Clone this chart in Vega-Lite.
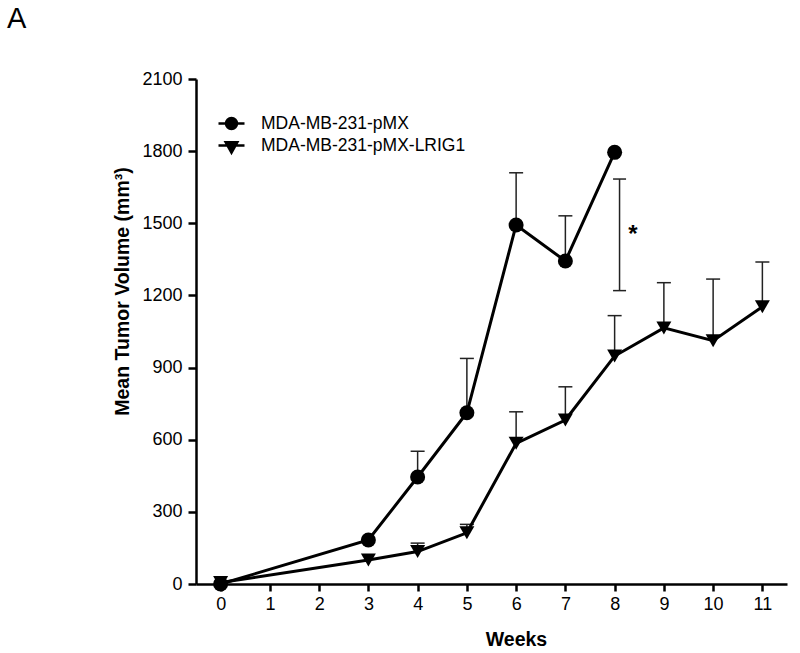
{
  "$schema": "https://vega.github.io/schema/vega-lite/v6.json",
  "width": 591,
  "height": 505,
  "autosize": {"type": "none"},
  "padding": {"left": 196, "top": 79, "right": 13, "bottom": 69},
  "background": "white",
  "config": {"view": {"stroke": null}, "font": "Liberation Sans"},
  "title": {"text": "A", "anchor": "start", "frame": "group", "fontSize": 29, "fontWeight": "normal", "font": "Liberation Sans", "color": "black", "dx": -189, "offset": 36},
  "datasets": {
    "tumor": [
      {"group": "MDA-MB-231-pMX", "week": 0, "mean": 0, "upper": null},
      {"group": "MDA-MB-231-pMX", "week": 3, "mean": 183, "upper": null},
      {"group": "MDA-MB-231-pMX", "week": 4, "mean": 445, "upper": 552},
      {"group": "MDA-MB-231-pMX", "week": 5, "mean": 712, "upper": 938},
      {"group": "MDA-MB-231-pMX", "week": 6, "mean": 1493, "upper": 1710},
      {"group": "MDA-MB-231-pMX", "week": 7, "mean": 1343, "upper": 1531},
      {"group": "MDA-MB-231-pMX", "week": 8, "mean": 1795, "upper": null},
      {"group": "MDA-MB-231-pMX-LRIG1", "week": 0, "mean": 6, "upper": null},
      {"group": "MDA-MB-231-pMX-LRIG1", "week": 3, "mean": 100, "upper": null},
      {"group": "MDA-MB-231-pMX-LRIG1", "week": 4, "mean": 135, "upper": 170},
      {"group": "MDA-MB-231-pMX-LRIG1", "week": 5, "mean": 213, "upper": 248},
      {"group": "MDA-MB-231-pMX-LRIG1", "week": 6, "mean": 585, "upper": 716},
      {"group": "MDA-MB-231-pMX-LRIG1", "week": 7, "mean": 682, "upper": 820},
      {"group": "MDA-MB-231-pMX-LRIG1", "week": 8, "mean": 948, "upper": 1116},
      {"group": "MDA-MB-231-pMX-LRIG1", "week": 9, "mean": 1065, "upper": 1253},
      {"group": "MDA-MB-231-pMX-LRIG1", "week": 10, "mean": 1012, "upper": 1268},
      {"group": "MDA-MB-231-pMX-LRIG1", "week": 11, "mean": 1153, "upper": 1339}
    ],
    "sig": [
      {"week": 8.1, "low": 1220, "high": 1684, "starWeek": 8.37, "starY": 1450, "label": "*"}
    ]
  },
  "data": {"name": "tumor"},
  "encoding": {
    "x": {
      "field": "week", "type": "quantitative",
      "scale": {"domain": [-0.5, 11.5], "nice": false, "zero": false},
      "axis": {
        "values": [0, 1, 2, 3, 4, 5, 6, 7, 8, 9, 10, 11],
        "title": "Weeks", "grid": false, "format": "d",
        "domainColor": "black", "domainWidth": 2.5,
        "tickColor": "black", "tickWidth": 2.5, "tickSize": 7,
        "labelFontSize": 18, "labelColor": "black", "labelPadding": 4, "labelFont": "Liberation Sans",
        "titleFontSize": 19.5, "titleFontWeight": "bold", "titleColor": "black", "titleFont": "Liberation Sans",
        "titleX": 320, "titleY": 61, "titleBaseline": "alphabetic"
      }
    },
    "y": {
      "field": "mean", "type": "quantitative",
      "scale": {"domain": [0, 2100], "nice": false},
      "axis": {
        "values": [0, 300, 600, 900, 1200, 1500, 1800, 2100],
        "title": "Mean Tumor Volume (mm³)", "grid": false, "format": "d",
        "domainColor": "black", "domainWidth": 2.5,
        "tickColor": "black", "tickWidth": 2.5, "tickSize": 8,
        "labelFontSize": 18, "labelColor": "black", "labelPadding": 6, "labelFont": "Liberation Sans",
        "titleFontSize": 19.5, "titleFontWeight": "bold", "titleColor": "black", "titleFont": "Liberation Sans",
        "titleX": -68, "titleY": 212, "titleBaseline": "alphabetic"
      }
    }
  },
  "layer": [
    {
      "mark": {"type": "rule", "color": "#222222", "strokeWidth": 1.5},
      "transform": [{"filter": "datum.upper != null"}],
      "encoding": {"y2": {"field": "upper"}}
    },
    {
      "mark": {"type": "point", "shape": "M-1,0H1", "size": 196, "filled": false, "color": "#222222", "strokeWidth": 1.5, "opacity": 1},
      "transform": [{"filter": "datum.upper != null"}],
      "encoding": {"y": {"field": "upper", "type": "quantitative"}}
    },
    {
      "mark": {"type": "line", "color": "black", "strokeWidth": 3},
      "encoding": {"detail": {"field": "group", "type": "nominal"}}
    },
    {
      "mark": {"type": "point", "shape": "triangle-down", "size": 225, "filled": true, "color": "black", "opacity": 1},
      "transform": [{"filter": "datum.group == 'MDA-MB-231-pMX-LRIG1'"}]
    },
    {
      "mark": {"type": "point", "shape": "circle", "size": 225, "filled": true, "color": "black", "opacity": 1},
      "transform": [{"filter": "datum.group == 'MDA-MB-231-pMX'"}]
    },
    {
      "mark": {"type": "point", "filled": false, "color": "black", "strokeWidth": 2.5, "opacity": 1},
      "transform": [{"filter": "datum.week < -5"}],
      "encoding": {
        "shape": {
          "field": "group", "type": "nominal",
          "scale": {
            "domain": ["MDA-MB-231-pMX", "MDA-MB-231-pMX-LRIG1"],
            "range": [
              "M-1.3,0H1.3M-0.55,0A0.55,0.55 0 1,0 0.55,0A0.55,0.55 0 1,0 -0.55,0ZM-0.38,0A0.38,0.38 0 1,0 0.38,0A0.38,0.38 0 1,0 -0.38,0ZM-0.21,0A0.21,0.21 0 1,0 0.21,0A0.21,0.21 0 1,0 -0.21,0ZM-0.05,0A0.05,0.05 0 1,0 0.05,0A0.05,0.05 0 1,0 -0.05,0Z",
              "M-1.3,0H1.3M-0.58,-0.32L0.58,-0.32L0,0.72ZM-0.406,-0.216L0.406,-0.216L0,0.512ZM-0.232,-0.112L0.232,-0.112L0,0.304ZM-0.058,0L0.058,0L0,0.096Z"
            ]
          },
          "legend": {
            "orient": "none", "legendX": 24, "legendY": 33, "title": null,
            "symbolSize": 400, "symbolStrokeWidth": 2.5, "symbolStrokeColor": "black",
            "symbolOpacity": 1,
            "labelFontSize": 17.5, "labelFont": "Liberation Sans", "labelColor": "black",
            "labelOffset": 18, "rowPadding": 0, "padding": 0, "labelLimit": 400
          }
        }
      }
    },
    {
      "data": {"name": "sig"},
      "mark": {"type": "rule", "color": "#222222", "strokeWidth": 1.5},
      "encoding": {
        "y": {"field": "low", "type": "quantitative"},
        "y2": {"field": "high"}
      }
    },
    {
      "data": {"name": "sig"},
      "mark": {"type": "point", "shape": "M-1,0H1", "size": 169, "filled": false, "color": "#222222", "strokeWidth": 1.5, "opacity": 1},
      "encoding": {"y": {"field": "low", "type": "quantitative"}}
    },
    {
      "data": {"name": "sig"},
      "mark": {"type": "point", "shape": "M-1,0H1", "size": 169, "filled": false, "color": "#222222", "strokeWidth": 1.5, "opacity": 1},
      "encoding": {"y": {"field": "high", "type": "quantitative"}}
    },
    {
      "data": {"name": "sig"},
      "mark": {"type": "text", "fontSize": 24, "fontWeight": "bold", "color": "black", "baseline": "middle", "align": "center", "font": "Liberation Sans"},
      "encoding": {
        "x": {"field": "starWeek", "type": "quantitative"},
        "y": {"field": "starY", "type": "quantitative"},
        "text": {"field": "label"}
      }
    }
  ]
}
